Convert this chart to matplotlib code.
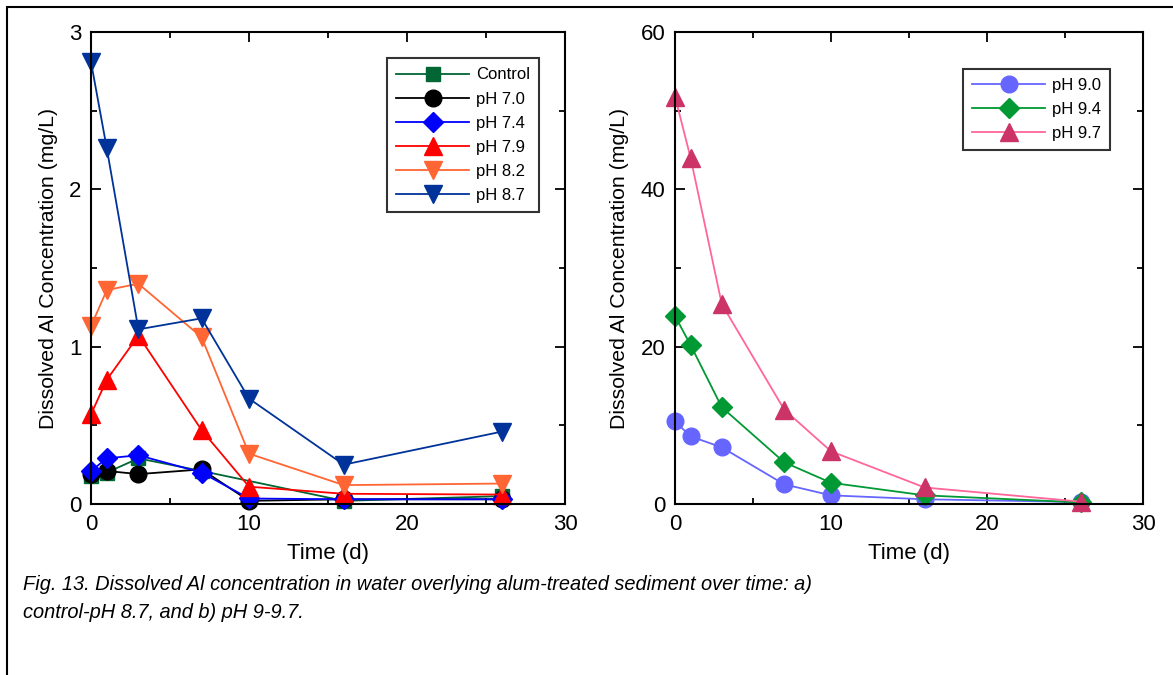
import numpy as np
import matplotlib
matplotlib.use('Agg')
import matplotlib.pyplot as plt
from matplotlib.patches import Rectangle
from matplotlib.ticker import MultipleLocator

plt.rcParams['font.family'] = ['Liberation Sans', 'DejaVu Sans']

# panel a) control to pH 8.7
days = [0, 1, 3, 7, 10, 16, 26]
days_control = [0, 1, 3, 7, 16, 26]
control = [0.18, 0.20, 0.29, 0.21, 0.02, 0.05]
ph70 = [0.19, 0.21, 0.19, 0.22, 0.02, 0.03, 0.03]
ph74 = [0.21, 0.29, 0.31, 0.20, 0.035, 0.03, 0.03]
ph79 = [0.57, 0.79, 1.07, 0.47, 0.11, 0.065, 0.06]
ph82 = [1.13, 1.36, 1.40, 1.06, 0.32, 0.12, 0.13]
ph87 = [2.81, 2.26, 1.11, 1.18, 0.67, 0.25, 0.46]

# panel b) pH 9 to 9.7
ph90 = [10.5, 8.6, 7.2, 2.5, 1.1, 0.6, 0.25]
ph94 = [23.9, 20.2, 12.3, 5.3, 2.7, 1.1, 0.2]
ph97 = [51.8, 44.0, 25.4, 12.0, 6.7, 2.1, 0.3]

fig = plt.figure(figsize=(11.73, 6.75), dpi=100)
ax1 = fig.add_axes([91/1173, 1-504/675, 474/1173, 472/675])
ax2 = fig.add_axes([675/1173, 1-504/675, 468/1173, 472/675])

lw = 1.3
ms = 12
ax1.plot(days_control, control, color='#006633', marker='s', ms=ms-1.5, lw=lw, label='Control')
ax1.plot(days, ph70, color='black', marker='o', ms=ms, lw=lw, label='pH 7.0')
ax1.plot(days, ph74, color='#0000FF', marker='D', ms=ms-2, lw=lw, label='pH 7.4')
ax1.plot(days, ph79, color='#FF0000', marker='^', ms=ms+1, lw=lw, label='pH 7.9')
ax1.plot(days, ph82, color='#FF6633', marker='v', ms=ms+1, lw=lw, label='pH 8.2')
ax1.plot(days, ph87, color='#003399', marker='v', ms=ms+1, lw=lw, label='pH 8.7')

ax2.plot(days, ph90, color='#6666FF', marker='o', ms=ms, lw=lw, label='pH 9.0')
ax2.plot(days, ph94, color='#009933', marker='D', ms=ms-2, lw=lw, label='pH 9.4')
ax2.plot(days, ph97, color='#FF6699', marker='^', ms=ms+1, lw=lw, mfc='#CC3366',
         mec='#CC3366', label='pH 9.7')

for ax, ymax, ymaj, ymin in [(ax1, 3, 1, 0.5), (ax2, 60, 20, 10)]:
    ax.set_xlim(0, 30)
    ax.set_ylim(0, ymax)
    ax.xaxis.set_major_locator(MultipleLocator(10))
    ax.xaxis.set_minor_locator(MultipleLocator(5))
    ax.yaxis.set_major_locator(MultipleLocator(ymaj))
    ax.yaxis.set_minor_locator(MultipleLocator(ymin))
    ax.tick_params(which='both', direction='in', top=True, right=True, width=1.3, labelsize=16, pad=7)
    ax.tick_params(which='major', length=7)
    ax.tick_params(which='minor', length=4)
    for s in ax.spines.values():
        s.set_linewidth(1.5)
        s.set_zorder(5)
    for ln in ax.get_lines():
        ln.set_clip_on(False)
    ax.set_xlabel('Time (d)', fontsize=16, labelpad=6)
    ax.set_ylabel('Dissolved Al Concentration (mg/L)', fontsize=15.3, labelpad=8)
    leg = ax.legend(loc='upper right', fontsize=12, handlelength=4.4, labelspacing=0.55,
                    fancybox=False, edgecolor='black', borderpad=0.55, handletextpad=0.4,
                    bbox_to_anchor=(0.963, 0.962) if ax is ax1 else (0.948, 0.94))
    leg.get_frame().set_linewidth(1.5)

fig.text(23/1173, 1-599/675,
         'Fig. 13. Dissolved Al concentration in water overlying alum-treated sediment over time: a)\n'
         'control-pH 8.7, and b) pH 9-9.7.',
         fontsize=14.4, style='italic', va='center', linespacing=1.6)

fig.patches.append(Rectangle((7/1173, -0.02), 1.1, 1.02 - 7/675, transform=fig.transFigure,
                             fill=False, edgecolor='black', linewidth=1.5))

plt.savefig('out.png', dpi=100)
plt.close()
